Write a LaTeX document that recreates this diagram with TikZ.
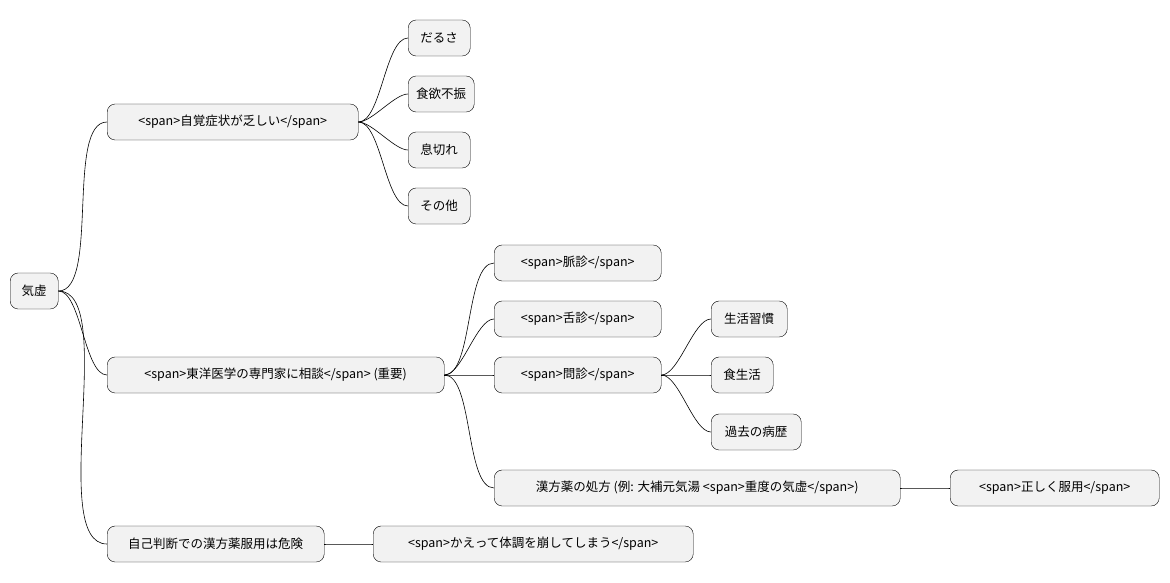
\documentclass[tikz,border=0pt]{standalone}
\usepackage{fontspec}
\setmainfont{Noto Sans CJK JP}
\tikzset{
  box/.style={draw, rounded corners=8pt, fill=gray!10, minimum height=36pt,
    anchor=west, inner xsep=8pt, font=\fontsize{12.5pt}{14pt}\selectfont},
  link/.style={draw, line width=0.6pt},
}
\begin{document}
\begin{tikzpicture}[x=1pt,y=-1pt]
  \useasboundingbox (0,0) rectangle (1170,583);
  % root and first level
  \node[box, minimum width=48pt] (kikyo) at (10,291) {気虚};
  \node[box, minimum width=251pt] (jikaku) at (107,122) {<span>自覚症状が乏しい</span>};
  \node[box, minimum width=337pt] (touyou) at (107,375) {<span>東洋医学の専門家に相談</span> (重要)};
  \node[box, minimum width=217pt] (jiko) at (107,544) {自己判断での漢方薬服用は危険};
  % symptoms
  \node[box, minimum width=62pt] (darusa) at (408,38) {だるさ};
  \node[box, minimum width=62pt] (shokuyoku) at (408,94) {食欲不振};
  \node[box, minimum width=62pt] (ikigire) at (408,150) {息切れ};
  \node[box, minimum width=62pt] (sonota) at (408,206) {その他};
  % diagnosis
  \node[box, minimum width=167pt] (myaku) at (494,263) {<span>脈診</span>};
  \node[box, minimum width=167pt] (zetsu) at (494,319) {<span>舌診</span>};
  \node[box, minimum width=167pt] (monshin) at (494,375) {<span>問診</span>};
  \node[box, minimum width=406pt] (shohou) at (494,488) {漢方薬の処方 (例: 大補元気湯 <span>重度の気虚</span>)};
  \node[box, minimum width=76pt] (seikatsu) at (711,319) {生活習慣};
  \node[box, minimum width=62pt] (shoku) at (711,375) {食生活};
  \node[box, minimum width=90pt] (kako) at (711,432) {過去の病歴};
  \node[box, minimum width=209pt] (tadashiku) at (950,488) {<span>正しく服用</span>};
  \node[box, minimum width=320pt] (kaette) at (373,544) {<span>かえって体調を崩してしまう</span>};
  % connectors
  \foreach \p/\c in {kikyo/jikaku, kikyo/touyou, kikyo/jiko,
      jikaku/darusa, jikaku/shokuyoku, jikaku/ikigire, jikaku/sonota,
      touyou/myaku, touyou/zetsu, touyou/monshin, touyou/shohou,
      monshin/seikatsu, monshin/shoku, monshin/kako,
      shohou/tadashiku, jiko/kaette}
    \draw[link] (\p.east) to[out=0, in=180, looseness=0.6] (\c.west);
\end{tikzpicture}
\end{document}
